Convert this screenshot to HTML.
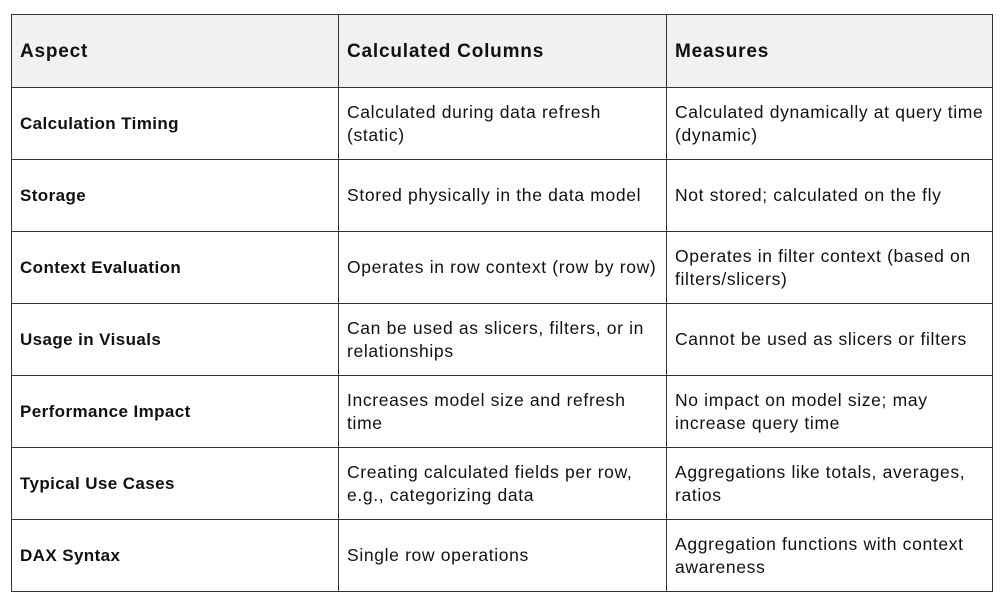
<!DOCTYPE html>
<html><head><meta charset="utf-8"><style>
body{margin:0;width:1000px;height:600px;background:#fff;position:relative;font-family:"Liberation Sans",sans-serif;color:#111;}
table{position:absolute;left:11px;top:14px;border-collapse:collapse;width:982px;}
td,th{border:1.5px solid #333;padding:0 8px;text-align:left;vertical-align:middle;font-size:17.5px;letter-spacing:0.65px;line-height:23px;white-space:nowrap;}
th{background:#f1f1f1;font-size:19px;letter-spacing:0.8px;font-weight:bold;height:72px;}
td{height:71px;}
td:first-child{font-weight:bold;font-size:17px;letter-spacing:0.4px;}
</style></head><body>
<table>
<colgroup><col style="width:328px"><col style="width:328px"><col style="width:326px"></colgroup>
<tr><th>Aspect</th><th>Calculated Columns</th><th>Measures</th></tr>
<tr><td>Calculation Timing</td><td>Calculated during data refresh<br>(static)</td><td>Calculated dynamically at query time<br>(dynamic)</td></tr>
<tr><td>Storage</td><td>Stored physically in the data model</td><td>Not stored; calculated on the fly</td></tr>
<tr><td>Context Evaluation</td><td>Operates in row context (row by row)</td><td>Operates in filter context (based on<br>filters/slicers)</td></tr>
<tr><td>Usage in Visuals</td><td>Can be used as slicers, filters, or in<br>relationships</td><td>Cannot be used as slicers or filters</td></tr>
<tr><td>Performance Impact</td><td>Increases model size and refresh<br>time</td><td>No impact on model size; may<br>increase query time</td></tr>
<tr><td>Typical Use Cases</td><td>Creating calculated fields per row,<br>e.g., categorizing data</td><td>Aggregations like totals, averages,<br>ratios</td></tr>
<tr><td>DAX Syntax</td><td>Single row operations</td><td>Aggregation functions with context<br>awareness</td></tr>
</table>
</body></html>
